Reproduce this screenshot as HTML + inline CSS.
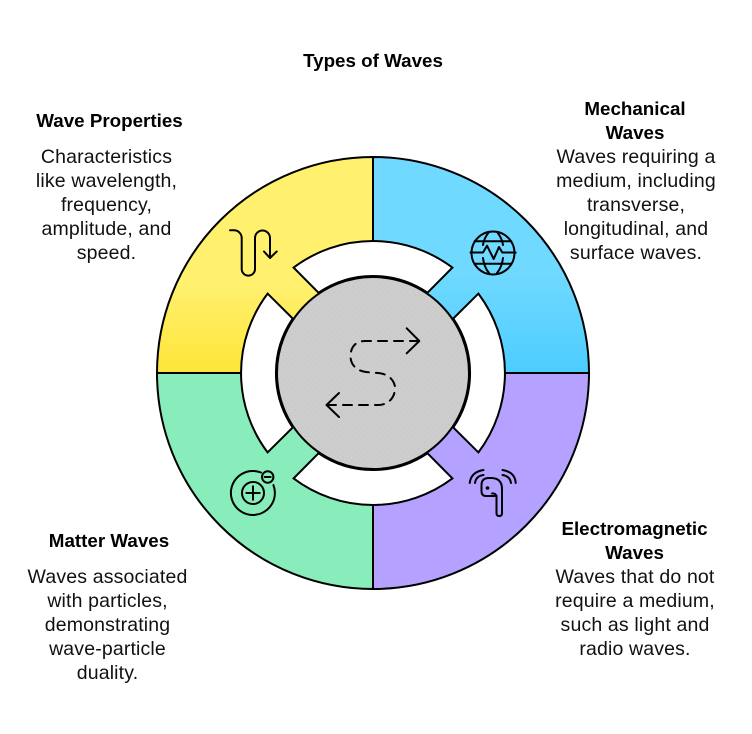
<!DOCTYPE html>
<html><head><meta charset="utf-8"><style>
html,body{margin:0;padding:0;background:#fff}
body{width:752px;height:734px;position:relative;overflow:hidden}
svg{position:absolute;left:0;top:0}
text{font-family:"Liberation Sans",sans-serif;font-size:19.500px;letter-spacing:.15px;fill:#111;text-anchor:middle}
.b{font-weight:bold;font-size:18.800px;letter-spacing:0;fill:#000}
</style></head><body>
<svg width="752" height="734" viewBox="0 0 752 734" xmlns="http://www.w3.org/2000/svg">
<defs>
<linearGradient id="y" x1="0" y1="0" x2="0" y2="1"><stop offset="0" stop-color="#FFF06E"/><stop offset=".6" stop-color="#FFF06E"/><stop offset="1" stop-color="#FFE538"/></linearGradient>
<linearGradient id="c" x1="0" y1="0" x2="0" y2="1"><stop offset="0" stop-color="#6FD9FF"/><stop offset=".55" stop-color="#6FD9FF"/><stop offset="1" stop-color="#4CCDFF"/></linearGradient>
<pattern id="d" width="6" height="6" patternUnits="userSpaceOnUse"><rect width="6" height="6" fill="#CDCDCD"/><rect x="1" y="1" width="1" height="1" fill="#C4C4C4"/><rect x="4" y="4" width="1" height="1" fill="#C4C4C4"/></pattern>
</defs>
<path d="M373 373V157A216 216 0 0 0 157 373Z" fill="url(#y)" stroke="#000" stroke-width="2"/>
<path d="M373 373V157A216 216 0 0 1 589 373Z" fill="url(#c)" stroke="#000" stroke-width="2"/>
<path d="M373 373H589A216 216 0 0 1 373 589Z" fill="#B5A1FF" stroke="#000" stroke-width="2"/>
<path d="M373 373V589A216 216 0 0 1 157 373Z" fill="#88EDBB" stroke="#000" stroke-width="2"/>
<g fill="#fff" stroke="#000" stroke-width="2" stroke-linejoin="miter">
<path d="M293.600 267.600A132 132 0 0 1 452.400 267.600L427.500 292.700A97 97 0 0 0 318.500 292.700Z"/>
<path d="M293.600 478.400A132 132 0 0 0 452.400 478.400L427.500 453.300A97 97 0 0 1 318.500 453.300Z"/>
<path d="M267.600 293.600A132 132 0 0 0 267.600 452.400L292.700 427.500A97 97 0 0 1 292.700 318.500Z"/>
<path d="M478.400 293.600A132 132 0 0 1 478.400 452.400L453.300 427.500A97 97 0 0 0 453.300 318.500Z"/>
</g>
<circle cx="373" cy="373" r="96" fill="url(#d)" stroke="#000" stroke-width="2"/>
<g fill="none" stroke="#000" stroke-width="2" stroke-linecap="round" stroke-linejoin="round">
<!-- center -->
<path d="M419 341H365C352 341 350.500 352 350.500 356C350.500 365 357 371 366 372L378 373C390 374 395 382 395 388C395 398 388 405 378 405H328" stroke-dasharray="9 7"/>
<path d="M406.700 328.300L419.300 341L406.700 353.300"/>
<path d="M339 393L326.500 405L339 417"/>
<!-- wave -->
<path d="M230 230.300H234A7.700 7.700 0 0 1 241.700 238V269A6.650 6.650 0 0 0 255 269V238A7.500 7.500 0 0 1 270 238V258"/>
<path d="M264 251.500L270 258L276.700 251.500"/>
<!-- globe -->
<circle cx="493" cy="253" r="21.500"/>
<path d="M470.500 252.500H483L487 245.700L493.700 259L499 247L502.300 252.500H515.700"/>
<path d="M474.700 241.300H511.300M474.700 263.700H511.300"/>
<path d="M489 232Q484 238 483 245M483 258Q484 267 489 273M497 232Q502 238 503 245M503 258Q502 267 497 273"/>
<!-- atom -->
<path d="M261 472.500A22 22 0 1 0 273.400 485"/>
<circle cx="253" cy="493" r="11"/>
<path d="M246.300 493H259.700M253 486.300V499.700"/>
<circle cx="267.700" cy="477" r="5.700"/>
<path d="M264.700 477H270.700"/>
<!-- earbud -->
<path d="M481.500 491V485Q481.500 478 489 478H491Q502 478 502 489V513Q502 516 499.500 516H499Q496.500 516 496.500 513V496H486Q481.500 496 481.500 491Z"/>
<path d="M492 493.500Q495 493 496.500 496"/>
<circle cx="487.500" cy="488" r="0.800"/>
<path d="M469.700 483Q471 472 483.500 470M475 483Q476 476 483.500 475"/>
<path d="M515.700 483Q515 472 502.500 470M511 483Q510 476 502.500 475"/>
</g>
<!-- labels -->
<text class="b" x="373" y="67">Types of Waves</text>
<text class="b" x="109.500" y="127">Wave Properties</text>
<text x="106.500" y="163">Characteristics</text>
<text x="106.500" y="187">like wavelength,</text>
<text x="106.500" y="211">frequency,</text>
<text x="106.500" y="235">amplitude, and</text>
<text x="106.500" y="259">speed.</text>
<text class="b" x="635" y="115">Mechanical</text>
<text class="b" x="635" y="139">Waves</text>
<text x="636" y="163">Waves requiring a</text>
<text x="636" y="187">medium, including</text>
<text x="636" y="211">transverse,</text>
<text x="636" y="235">longitudinal, and</text>
<text x="636" y="259">surface waves.</text>
<text class="b" x="109" y="547">Matter Waves</text>
<text x="107.500" y="583">Waves associated</text>
<text x="107.500" y="607">with particles,</text>
<text x="107.500" y="631">demonstrating</text>
<text x="107.500" y="655">wave-particle</text>
<text x="107.500" y="679">duality.</text>
<text class="b" x="634.500" y="535">Electromagnetic</text>
<text class="b" x="634.500" y="559">Waves</text>
<text x="635" y="583">Waves that do not</text>
<text x="635" y="607">require a medium,</text>
<text x="635" y="631">such as light and</text>
<text x="635" y="655">radio waves.</text>
</svg>
</body></html>
